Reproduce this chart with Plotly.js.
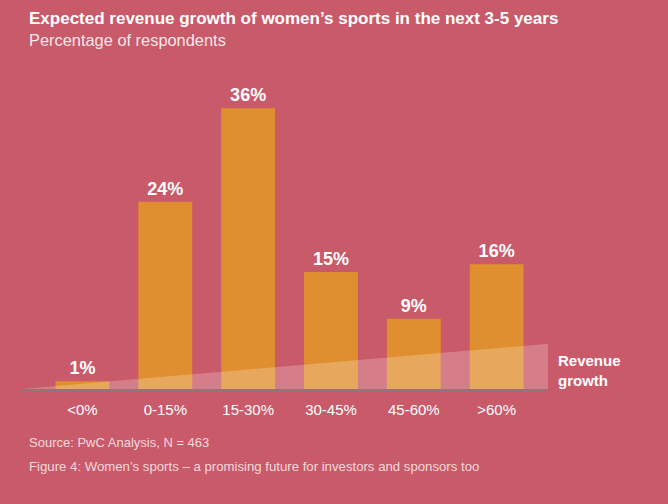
<!DOCTYPE html>
<html>
<head>
<meta charset="utf-8">
<script src="https://cdn.plot.ly/plotly-3.0.1.min.js"></script>
<style>html,body{margin:0;padding:0;background:#C95A6A;}#chart{width:668px;height:504px;}</style>
</head>
<body>
<div id="chart"></div>
<script>
const categories = ['<0%', '0-15%', '15-30%', '30-45%', '45-60%', '>60%'];
const values = [1, 24, 36, 15, 9, 16];
const valueLabels = ['1%', '24%', '36%', '15%', '9%', '16%'];
const triangleTop = 5.8; // height of the "revenue growth" wedge, in %

const xIdx = categories.map((c, i) => i);
const xMin = -0.73, xMax = 5.62;

const trace = {
  type: 'bar',
  x: xIdx,
  y: values,
  width: 0.65,
  marker: {color: '#E08F30', line: {width: 0}},
  text: valueLabels,
  textposition: 'outside',
  textfont: {family: 'Liberation Sans, Arial, sans-serif', size: 18, color: '#ffffff', weight: 'bold'},
  cliponaxis: false,
  hoverinfo: 'none'
};

const layout = {
  width: 668, height: 504,
  paper_bgcolor: '#C95A6A',
  plot_bgcolor: '#C95A6A',
  margin: {l: 22, r: 120, t: 77, b: 115},
  showlegend: false,
  font: {family: 'Liberation Sans, Arial, sans-serif', color: '#ffffff'},
  xaxis: {
    range: [xMin, xMax],
    tickvals: xIdx,
    ticktext: categories,
    tickfont: {size: 15, color: '#ffffff'},
    showgrid: false, zeroline: false,
    showline: true, linecolor: 'rgba(140,120,125,0.9)', linewidth: 1.5,
    ticks: 'outside', ticklen: 6, tickcolor: 'rgba(0,0,0,0)',
    fixedrange: true
  },
  yaxis: {
    range: [0, 40],
    visible: false,
    showgrid: false, zeroline: false,
    fixedrange: true
  },
  shapes: [{
    type: 'path',
    xref: 'x', yref: 'y',
    path: `M ${xMin},0 L ${xMax},0 L ${xMax},${triangleTop} Z`,
    fillcolor: 'rgba(255,255,255,0.22)',
    line: {width: 0},
    layer: 'above'
  }],
  annotations: [
    {text: '<b>Expected revenue growth of women’s sports in the next 3-5 years</b>',
     xref: 'paper', yref: 'paper', x: (27 - 22) / 526, y: (389 - 18) / 312,
     xanchor: 'left', yanchor: 'middle', showarrow: false,
     font: {size: 17, color: '#ffffff'}},
    {text: 'Percentage of respondents',
     xref: 'paper', yref: 'paper', x: (27 - 22) / 526, y: (389 - 40) / 312,
     xanchor: 'left', yanchor: 'middle', showarrow: false,
     font: {size: 16.4, color: 'rgba(255,255,255,0.88)'}},
    {text: '<b>Revenue<br>growth</b>',
     xref: 'paper', yref: 'paper', x: (556 - 22) / 526, y: (389 - 370) / 312,
     xanchor: 'left', yanchor: 'middle', align: 'left', showarrow: false,
     font: {size: 15, color: '#ffffff'}},
    {text: 'Source: PwC Analysis, N = 463',
     xref: 'paper', yref: 'paper', x: (27 - 22) / 526, y: (389 - 442) / 312,
     xanchor: 'left', yanchor: 'middle', showarrow: false,
     font: {size: 13, color: 'rgba(255,255,255,0.78)'}},
    {text: 'Figure 4: Women’s sports – a promising future for investors and sponsors too',
     xref: 'paper', yref: 'paper', x: (27 - 22) / 526, y: (389 - 466) / 312,
     xanchor: 'left', yanchor: 'middle', showarrow: false,
     font: {size: 13.2, color: 'rgba(255,255,255,0.78)'}}
  ]
};

Plotly.newPlot('chart', [trace], layout, {displayModeBar: false, staticPlot: true});
</script>
</body>
</html>
